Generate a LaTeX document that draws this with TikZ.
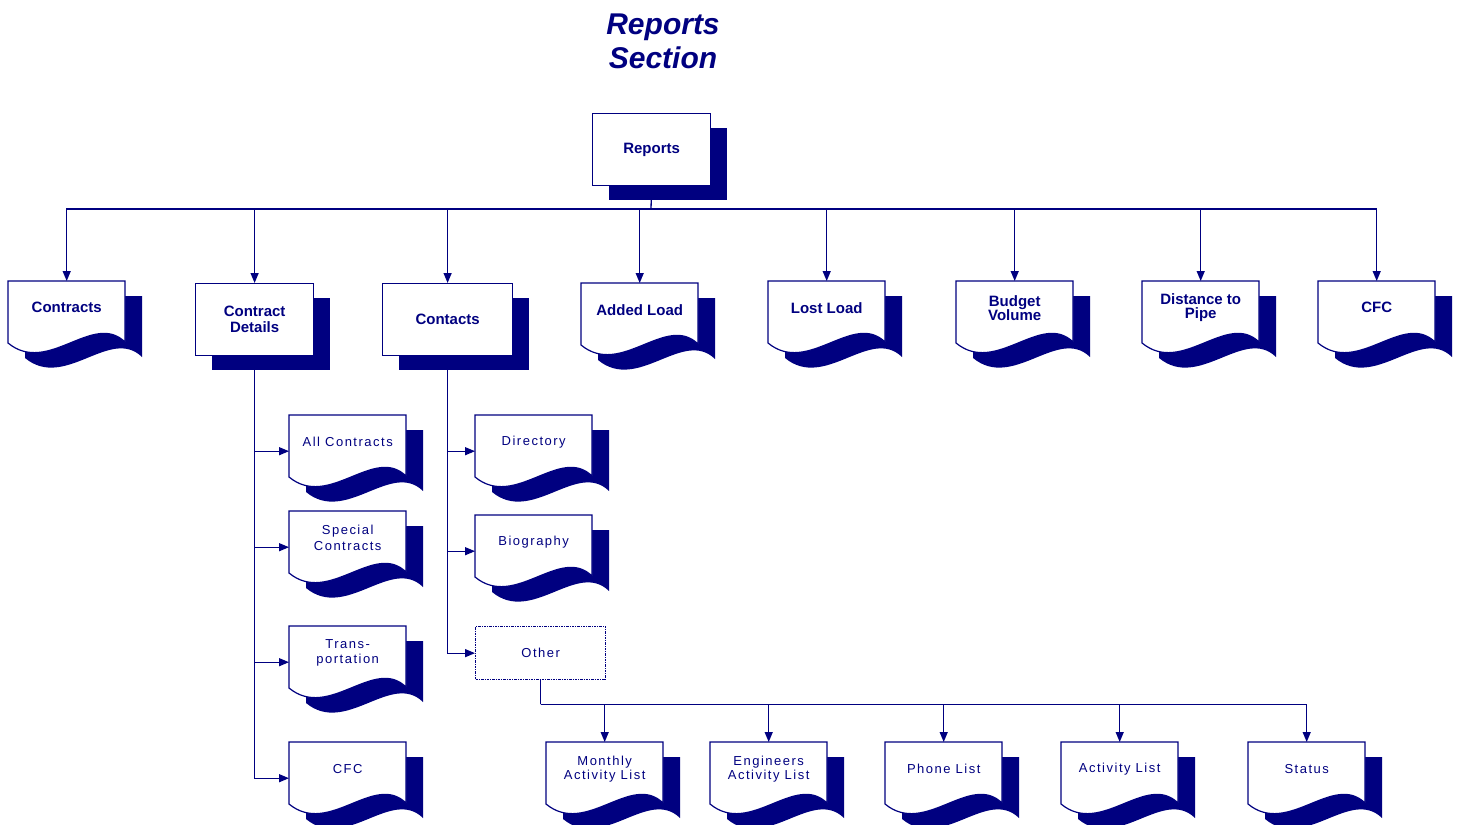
\documentclass[tikz,border=0pt]{standalone}
\usepackage{fontspec}
\setmainfont{Liberation Sans}
\newfontfamily\spacedfont[LetterSpace=11.5]{Liberation Sans}
\usetikzlibrary{arrows.meta,calc}
\definecolor{navy}{HTML}{000080}
\tikzset{
  line/.style={draw=navy, line width=1.3pt},
  arr/.style={line, -{Triangle[length=10pt,width=8pt]}},
  boldtxt/.style={font=\fontsize{15}{15}\selectfont\bfseries, text=navy, align=center, inner sep=0pt},
  lighttxt/.style={font=\spacedfont\fontsize{13}{15}\selectfont, text=navy, align=center, inner sep=0pt},
  docshape/.pic={\path[pic actions] (0,0) -- (117,0) -- (117,61) .. controls (85,30) and (40,95) .. (0,62) -- cycle;},
  area/.style={anchor=north west, minimum width=117pt, minimum height=72pt, inner sep=0pt, draw=none},
}
\newcommand\docbox[5]{%
  \pic[fill=navy] at (#2+17,#3+15) {docshape};
  \pic[fill=white, draw=navy, line width=1.2pt] at (#2,#3) {docshape};
  \node[area] (#1) at (#2,#3) {};
  \node[#5] (#1-t) at ([yshift=9.5pt]#1.center) {#4};
}
\newcommand\rectbox[6]{%
  \fill[navy] (#2+17,#3+15) rectangle ++(#4,#5);
  \node[boldtxt, draw=navy, fill=white, line width=1.2pt, minimum width=#4pt, minimum height=#5pt, anchor=north west] (#1) at (#2,#3) {#6};
}
\begin{document}
\begin{tikzpicture}[x=1pt,y=-1pt]
\useasboundingbox (0,0) rectangle (1458,824);
\clip (0,0) rectangle (1458,824);
\fill[white] (0,0) rectangle (1458,824);

% title
\node[font=\fontsize{30}{34}\selectfont\bfseries\itshape, text=navy, align=center, inner sep=0pt] (title) at (663,41) {Reports\\Section};

\coordinate (bus) at (651,209);

% boxes
\rectbox{reports}{592}{113}{118}{72}{Reports}
\rectbox{cdetails}{195}{283}{118}{72}{Contract\\[1pt]Details}
\rectbox{contacts}{382}{283}{130}{72}{Contacts}

\docbox{contracts}{8}{281}{Contracts}{boldtxt}
\docbox{added}{581}{283}{Added Load}{boldtxt}
\docbox{lost}{768}{281}{Lost Load}{boldtxt}
\docbox{budget}{956}{281}{Budget\\[-1pt]Volume}{boldtxt}
\docbox{distance}{1142}{281}{Distance to\\[-1pt]Pipe}{boldtxt}
\docbox{cfc}{1318}{281}{CFC}{boldtxt}

\docbox{allc}{289}{415}{All Contracts}{lighttxt}
\docbox{special}{289}{511}{Special\\[1pt]Contracts}{lighttxt}
\docbox{trans}{289}{626}{Trans-\\portation}{lighttxt}
\docbox{cfcb}{289}{742}{CFC}{lighttxt}

\docbox{directory}{475}{415}{Directory}{lighttxt}
\docbox{biography}{475}{515}{Biography}{lighttxt}
\node[lighttxt, draw=navy, line width=1.3pt, dash pattern=on 2.5pt off 1pt on 1pt off 1pt, minimum width=130pt, minimum height=53pt, anchor=north west] (other) at (475,626) {Other};

\docbox{monthly}{546}{742}{Monthly\\[-1pt]Activity List}{lighttxt}
\docbox{engineers}{710}{742}{Engineers\\[-1pt]Activity List}{lighttxt}
\docbox{phone}{885}{742}{Phone List}{lighttxt}
\docbox{activity}{1061}{742}{Activity List}{lighttxt}
\docbox{status}{1248}{742}{Status}{lighttxt}

% connectors
\draw[line] (reports.south) -- (bus);
\foreach \n in {contracts,cdetails,contacts,added,lost,budget,distance,cfc}
  \draw[arr] (bus) -| (\n.north);
\foreach \n in {allc,special,trans,cfcb}
  \draw[arr] (cdetails.south) |- (\n.west);
\foreach \n in {directory,biography,other}
  \draw[arr] (contacts.south) |- (\n.west);
\draw[line] (other.south) -- ++(0,24) coordinate (obus);
\foreach \n in {monthly,engineers,phone,activity,status}
  \draw[arr] (obus) -| (\n.north);
\end{tikzpicture}
\end{document}
